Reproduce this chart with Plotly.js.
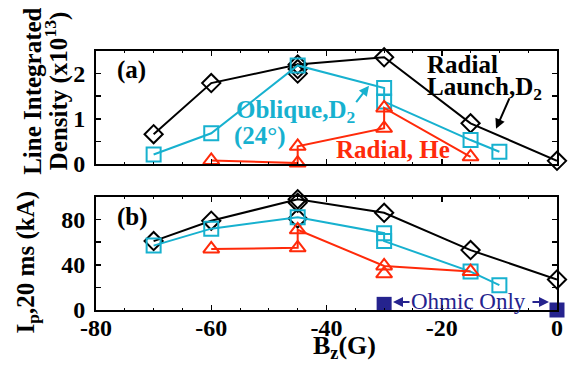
<!DOCTYPE html>
<html><head><meta charset="utf-8">
<script src="https://cdn.plot.ly/plotly-3.0.1.min.js"></script>
<style>html,body{margin:0;padding:0;background:#fff}#c{width:568px;height:368px}</style>
</head><body><div id="c"></div>
<script>
// (a) Line integrated density (x10^13)
const radD2X = [-70, -60, -45, -30, -15, 0];
const radD2A = [0.66, 1.79, 2.2, 2.36, 0.9, 0.07];
const radD2ExtraX = [-45, -45];
const radD2ExtraA = [2.1, 2.0];
const oblX = [-70, -60, -45, -30, -30, -15, -10];
const oblA = [0.21, 0.68, 2.18, 1.68, 1.38, 0.53, 0.27];
const heX = [-60, -45, -45, -30, -30, -15];
const heA = [0.08, 0.02, 0.39, 0.79, 1.24, 0.16];
// (b) Ip at 20 ms (kA)
const radD2B = [61, 79, 98, 86, 53, 27];
const radD2ExtraB = [95, 81];
const oblB = [57, 72, 82, 68, 61, 34, 22];
const heBX = [-60, -45, -45, -30, -15];
const heB = [54, 55, 71, 39, 34];
const heBExtraX = [-30];
const heBExtra = [32];
const ohmicX = [-30, 0];
const ohmicB = [5, 0];

const BLACK = '#000000', CYAN = '#17b1cf', RED = '#ff2a0a', NAVY = '#25238e';
const FF = 'Liberation Serif, Times New Roman, serif';
const mk = (sym, col) => ({symbol: sym, size: 14, color: col, line: {color: col, width: 2}});

const traces = [
  {x: radD2X, y: radD2A, xaxis: 'x2', yaxis: 'y2', mode: 'lines+markers', line: {color: BLACK, width: 2}, marker: mk('diamond-open', BLACK), cliponaxis: false},
  {x: radD2ExtraX, y: radD2ExtraA, xaxis: 'x2', yaxis: 'y2', mode: 'markers', marker: mk('diamond-open', BLACK), cliponaxis: false},
  {x: oblX, y: oblA, xaxis: 'x2', yaxis: 'y2', mode: 'lines+markers', line: {color: CYAN, width: 2}, marker: mk('square-open', CYAN), cliponaxis: false},
  {x: heX, y: heA, xaxis: 'x2', yaxis: 'y2', mode: 'lines+markers', line: {color: RED, width: 2}, marker: mk('triangle-up-open', RED), cliponaxis: false},

  {x: radD2X, y: radD2B, xaxis: 'x', yaxis: 'y', mode: 'lines+markers', line: {color: BLACK, width: 2}, marker: mk('diamond-open', BLACK), cliponaxis: false},
  {x: radD2ExtraX, y: radD2ExtraB, xaxis: 'x', yaxis: 'y', mode: 'markers', marker: mk('diamond-open', BLACK), cliponaxis: false},
  {x: oblX, y: oblB, xaxis: 'x', yaxis: 'y', mode: 'lines+markers', line: {color: CYAN, width: 2}, marker: mk('square-open', CYAN), cliponaxis: false},
  {x: heBX, y: heB, xaxis: 'x', yaxis: 'y', mode: 'lines+markers', line: {color: RED, width: 2}, marker: mk('triangle-up-open', RED), cliponaxis: false},
  {x: heBExtraX, y: heBExtra, xaxis: 'x', yaxis: 'y', mode: 'markers', marker: mk('triangle-up-open', RED), cliponaxis: false},
  {x: ohmicX, y: ohmicB, xaxis: 'x', yaxis: 'y', mode: 'markers', marker: {symbol: 'square', size: 15, color: NAVY}, cliponaxis: false}
];

const tickFont = {family: FF, size: 24, color: '#000', weight: 700};
const axBase = {showline: true, linewidth: 2, linecolor: '#000', mirror: 'allticks', ticks: 'inside', ticklen: 5, tickwidth: 1.5, tickcolor: '#000', showgrid: false, zeroline: false, tickfont: tickFont, fixedrange: true};
const xMinor = {dtick: 5, ticks: 'inside', ticklen: 2, tickwidth: 1, tickcolor: '#000', showgrid: false};

const lab = (text, x, y, col, xref, yref, extra) => Object.assign({text, x, y, xref, yref, showarrow: false, xanchor: 'left', yanchor: 'middle', align: 'left', font: {family: FF, size: 25, color: col, weight: 700}}, extra || {});
const arr = (x, y, ax, ay, col, xref, yref) => ({text: '', x, y, ax, ay, xref, yref, showarrow: true, arrowhead: 2, arrowsize: 1, arrowwidth: 2, arrowcolor: col, standoff: 0});

const layout = {
  width: 568, height: 368,
  margin: {l: 96, r: 11, t: 51, b: 58},
  paper_bgcolor: '#fff', plot_bgcolor: '#fff',
  showlegend: false,
  xaxis: Object.assign({}, axBase, {anchor: 'y', range: [-80, 0], tickvals: [-80, -60, -40, -20, 0], ticktext: ['-80', '-60', '-40', '-20', '0'], ticklabelstandoff: -5, minor: xMinor}),
  yaxis: Object.assign({}, axBase, {anchor: 'x', domain: [0, 0.4363], range: [0, 100], tickvals: [0, 20, 40, 60, 80], ticktext: ['0', '', '40', '', '80'], ticklabelstandoff: 4}),
  xaxis2: Object.assign({}, axBase, {anchor: 'y2', range: [-80, 0], tickvals: [-80, -60, -40, -20, 0], showticklabels: false, minor: xMinor}),
  yaxis2: Object.assign({}, axBase, {anchor: 'x2', domain: [0.5637, 1], range: [0, 2.5], tickvals: [0, 0.5, 1, 1.5, 2], ticktext: ['0', '', '1', '', '2'], ticklabelstandoff: 4}),
  annotations: [
    lab('(a)', -76.7, 2.09, '#000', 'x2', 'y2'),
    lab('(b)', -76.7, 82.4, '#000', 'x', 'y'),
    lab('Oblique,D<sub>2</sub>', -56.05, 1.16, CYAN, 'x2', 'y2'),
    lab('(24°)', -56.4, 0.61, CYAN, 'x2', 'y2'),
    lab('Radial, He', -38.7, 0.31, RED, 'x2', 'y2'),
    lab('Radial', -22.9, 2.2, '#000', 'x2', 'y2'),
    lab('Launch,D<sub>2</sub>', -22.9, 1.66, '#000', 'x2', 'y2'),
    arr(-10.58, 0.778, 14, -32, '#000', 'x2', 'y2'),
    arr(-32.62, 1.733, -14, 18, CYAN, 'x2', 'y2'),
    lab('Ohmic Only', -15.3, 7.4, NAVY, 'x', 'y', {xanchor: 'center', font: {family: FF, size: 23, color: NAVY, weight: 400}}),
    arr(-28.46, 7.1, 18, 0, NAVY, 'x', 'y'),
    arr(-1.39, 7.1, -18, 0, NAVY, 'x', 'y'),
    lab('Line Integrated', -0.137, 0.8456, '#000', 'paper', 'paper', {xanchor: 'center', align: 'center', textangle: -90}),
    lab('Density (x10<sup>13</sup>)', -0.084, 0.8456, '#000', 'paper', 'paper', {xanchor: 'center', align: 'center', textangle: -90}),
    lab('I<sub>p</sub>,20 ms (kA)', -0.148, 0.183, '#000', 'paper', 'paper', {xanchor: 'center', align: 'center', textangle: -90}),
    lab('B<sub>z</sub>(G)', 0.538, -0.143, '#000', 'paper', 'paper', {xanchor: 'center', align: 'center', font: {family: FF, size: 26, color: '#000', weight: 700}})
  ]
};

Plotly.newPlot('c', traces, layout, {displayModeBar: false, staticPlot: true});
</script>
</body></html>
